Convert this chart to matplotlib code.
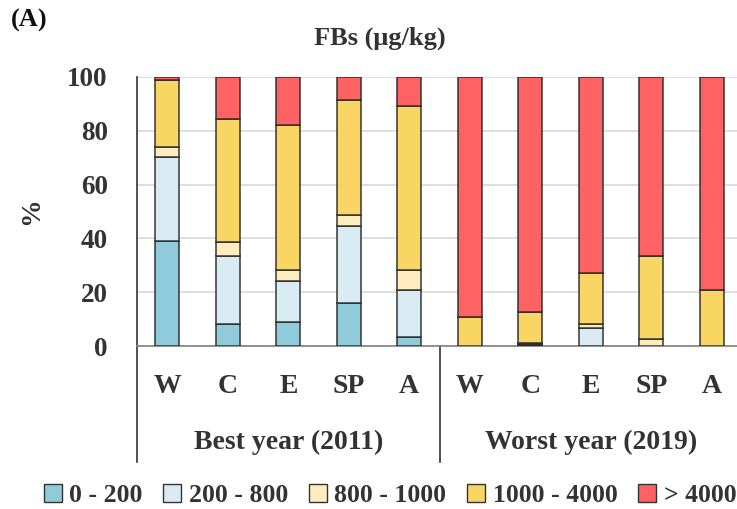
import numpy as np
import matplotlib.pyplot as plt
from matplotlib.patches import Patch

plt.rcParams['font.family'] = ['Liberation Serif', 'DejaVu Serif']
plt.rcParams['font.weight'] = 'bold'
plt.rcParams['axes.labelweight'] = 'bold'

seasons = ["W", "C", "E", "SP", "A"]
groups = ["Best year (2011)", "Worst year (2019)"]
classes = ["0 - 200", "200 - 800", "800 - 1000", "1000 - 4000", "> 4000"]
colors = ["#8fcbdb", "#d9ebf3", "#ffedbd", "#f9d563", "#ff6262"]

# % of samples per class, W C E SP A (2011) then W C E SP A (2019)
c0_200 = [38.9, 8.1, 8.8, 15.8, 3.5, 0.0, 0.3, 0.0, 0.0, 0.0]
c200_800 = [31.2, 25.3, 15.4, 28.9, 17.5, 0.0, 0.6, 6.7, 0.0, 0.0]
c800_1000 = [3.8, 5.1, 3.9, 4.1, 7.1, 0.0, 0.2, 1.6, 2.5, 0.0]
c1000_4000 = [24.9, 45.8, 53.9, 42.6, 61.2, 10.7, 11.4, 18.7, 30.8, 21.0]
c4000 = [1.2, 15.7, 18.0, 8.6, 10.7, 89.3, 87.5, 73.0, 66.7, 79.0]

series = [c0_200, c200_800, c800_1000, c1000_4000, c4000]
labels = seasons + seasons
x = np.arange(len(labels))

fig = plt.figure(figsize=(7.37, 5.09), dpi=100)
ax = fig.add_axes([137 / 737, 1 - 346 / 509, 605 / 737, 269 / 509])

bottom = np.zeros(len(x))
for vals, col, lab in zip(series, colors, classes):
    vals = np.array(vals)
    ax.bar(x, vals, width=0.4, bottom=bottom, color=col,
           edgecolor=(0.15, 0.15, 0.15, 0.85), linewidth=1.2, label=lab, zorder=3)
    bottom += vals

ax.set_xlim(-0.5, 9.5)
ax.set_ylim(0, 100)
ax.set_yticks([0, 20, 40, 60, 80, 100])
ax.tick_params(axis='y', length=0, pad=21, labelsize=19.5, labelcolor="#333333")
ax.tick_params(axis='x', length=0)
ax.set_xticks([])
ax.grid(axis='y', color="#d9d9d9", linewidth=1.2, zorder=0)
for s in ["top", "right"]:
    ax.spines[s].set_visible(False)
ax.spines["bottom"].set_color("#888888")
ax.spines["bottom"].set_linewidth(1.3)
ax.spines["left"].set_visible(False)

trans = ax.get_xaxis_transform()
for xi, lab in zip(x, labels):
    ax.text(xi, -0.152, lab, transform=trans, ha="center", va="center",
            fontsize=20, color="#333333")
ax.text(2, -0.357, groups[0], transform=trans, ha="center", va="center",
        fontsize=20, color="#333333")
ax.text(7, -0.357, groups[1], transform=trans, ha="center", va="center",
        fontsize=20, color="#333333")
for xs in [-0.5, 4.5]:
    ax.plot([xs, xs], [1.0 if xs < 0 else 0.0, -0.431], transform=trans,
            color="#333333", linewidth=1.2, clip_on=False)

ax.set_ylabel("%", fontsize=20, color="#333333")
ax.yaxis.set_label_coords(-0.154, 0.5)
fig.text(380 / 737, 1 - 38 / 509, "FBs (μg/kg)", fontsize=19, ha="center",
         va="center", color="#333333")
fig.text(11 / 737, 1 - 20 / 509, "(A)", fontsize=19, va="center", ha="left",
         color="#111111")

handles = [Patch(facecolor=c, edgecolor="#333333", label=l)
           for c, l in zip(colors, classes)]
fig.legend(handles=handles, loc="center", bbox_to_anchor=(390 / 737, 1 - 495 / 509),
           ncol=5, frameon=False, fontsize=18.5, handlelength=0.7, handleheight=0.7,
           handletextpad=0.3, columnspacing=0.8, labelcolor="#333333")

fig.savefig("out.png", dpi=100)
